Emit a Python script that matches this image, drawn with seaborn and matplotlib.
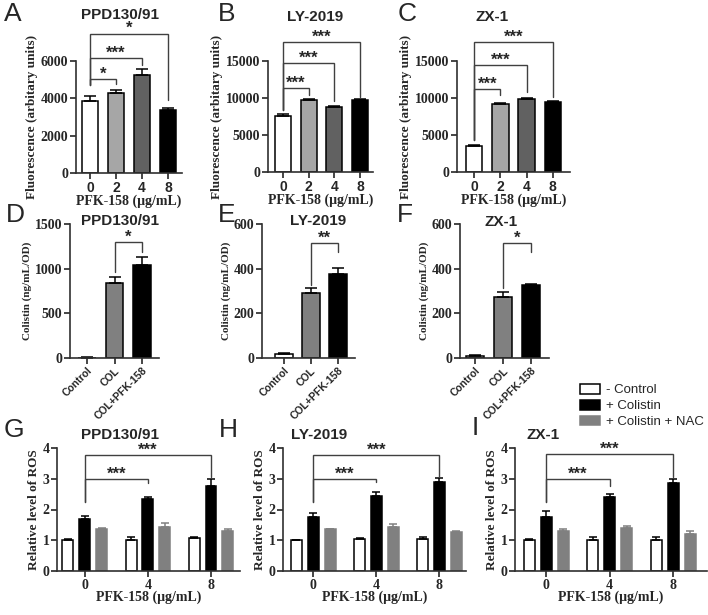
import numpy as np
import pandas as pd
import matplotlib.pyplot as plt
import seaborn as sns
from matplotlib.patches import Patch

sns.set_style('ticks')
plt.rcParams['font.family'] = ['Liberation Sans', 'DejaVu Sans']
plt.rcParams['axes.linewidth'] = 1.2
plt.rcParams['axes.edgecolor'] = '#303030'

SERIF = ['Liberation Serif', 'DejaVu Serif']
W, H = 708, 615

# ---- fluorescence data (A-C)
doses = ['0', '2', '4', '8']
fluo_ppd = [3850, 4300, 5250, 3350]
fluo_ppd_err = [300, 170, 320, 130]
fluo_ly = [7600, 9700, 8850, 9750]
fluo_ly_err = [200, 120, 100, 100]
fluo_zx = [3550, 9250, 9800, 9400]
fluo_zx_err = [150, 80, 200, 250]
fluo_colors = ['white', '#a6a6a6', '#616161', 'black']

# ---- colistin data (D-F)
col_groups = ['Control', 'COL', 'COL+PFK-158']
col_ppd = [5, 840, 1045]
col_ppd_err = [3, 70, 90]
col_ly = [18, 292, 376]
col_ly_err = [6, 20, 25]
col_zx = [10, 272, 325]
col_zx_err = [4, 25, 8]
col_colors = ['white', '#808080', 'black']

# ---- ROS data (G-I)
ros_doses = ['0', '4', '8']
ros_hue = ['- Control', '+ Colistin', '+ Colistin + NAC']
ros_colors = ['white', 'black', '#808080']
ros_edges = ['black', 'black', '#808080']
ros_ppd_ctrl = [1.00, 1.02, 1.07]
ros_ppd_ctrl_err = [0.05, 0.07, 0.02]
ros_ppd_col = [1.69, 2.33, 2.77]
ros_ppd_col_err = [0.10, 0.09, 0.22]
ros_ppd_nac = [1.35, 1.42, 1.31]
ros_ppd_nac_err = [0.05, 0.13, 0.04]
ros_ly_ctrl = [1.00, 1.03, 1.04]
ros_ly_ctrl_err = [0.02, 0.03, 0.05]
ros_ly_col = [1.77, 2.44, 2.91]
ros_ly_col_err = [0.10, 0.14, 0.11]
ros_ly_nac = [1.35, 1.44, 1.26]
ros_ly_nac_err = [0.02, 0.09, 0.03]
ros_zx_ctrl = [1.00, 1.02, 1.02]
ros_zx_ctrl_err = [0.03, 0.08, 0.07]
ros_zx_col = [1.74, 2.40, 2.86]
ros_zx_col_err = [0.20, 0.10, 0.13]
ros_zx_nac = [1.31, 1.41, 1.21]
ros_zx_nac_err = [0.07, 0.05, 0.08]

# significance brackets: (i, j, line height, left end, right end, label)
sig_a = [(0, 1, 5040, 4700, 4750, '*'), (0, 2, 6140, 4700, 5780, '***'),
         (0, 3, 7470, 4700, 3910, '*')]
sig_b = [(0, 1, 11400, 8400, 10400, '***'), (0, 2, 14700, 8400, 9600, '***'),
         (0, 3, 17600, 8400, 10200, '***')]
sig_c = [(0, 1, 11200, 4300, 10400, '***'), (0, 2, 14500, 4300, 10800, '***'),
         (0, 3, 17600, 4300, 10200, '***')]
sig_d = [(1, 2, 1295, 968, 1191, '*')]
sig_e = [(1, 2, 516, 327, 476, '**')]
sig_f = [(1, 2, 513, 313, 476, '*')]
sig_g = [(0, 1, 3.0, 2.26, 2.86, '***'), (0, 2, 3.78, 2.26, 3.07, '***')]
sig_h = [(0, 1, 3.0, 2.25, 2.91, '***'), (0, 2, 3.78, 2.25, 3.05, '***')]
sig_i = [(0, 1, 3.0, 2.26, 2.77, '***'), (0, 2, 3.8, 2.26, 3.07, '***')]

fig = plt.figure(figsize=(W / 100, H / 100), dpi=100)


def add_ax(x0, x1, ytop, ybot):
    return fig.add_axes([x0 / W, 1 - ybot / H, (x1 - x0) / W, (ybot - ytop) / H])


def brackets(ax, sigs):
    for i, j, y, yi, yj, lab in sigs:
        ax.plot([i, i, j, j], [yi, y, y, yj], color='#404040', lw=1.0,
                clip_on=False, solid_joinstyle='miter')
        ax.annotate(lab, ((i + j) / 2, y), xytext=(0, 3.5), textcoords='offset points',
                    ha='center', va='center', fontsize=12, fontweight='bold',
                    annotation_clip=False)


def axis_style(ax, yticks, ylabel, ysize):
    sns.despine(ax=ax)
    ax.set_ylim(yticks[0], yticks[-1])
    ax.set_yticks(yticks, labels=[str(t) for t in yticks], fontfamily=SERIF,
                  fontweight='bold', fontsize=10)
    ax.tick_params(axis='both', direction='out', length=4, width=1.2, pad=1.5)
    ax.set_ylabel(ylabel, fontfamily=SERIF, fontweight='bold', fontsize=ysize, labelpad=2)


def fluo_panel(ax, vals, errs, xlim, yticks, sigs):
    sns.barplot(x=doses, y=vals, hue=doses, palette=fluo_colors, legend=False,
                width=0.62, edgecolor='black', linewidth=1.1, saturation=1, ax=ax)
    ax.errorbar(np.arange(len(vals)), vals, yerr=[np.zeros(len(vals)), errs], fmt='none',
                ecolor='black', elinewidth=1.1, capsize=4, capthick=1.1)
    axis_style(ax, yticks, 'Fluorescence (arbitary units)', 9.5)
    ax.set_xlim(*xlim)
    ax.set_xticks(range(len(doses)), labels=doses, fontweight='bold', fontsize=10)
    ax.set_xlabel('PFK-158 (\u03bcg/mL)', fontfamily=SERIF, fontweight='bold',
                  fontsize=10, labelpad=0)
    brackets(ax, sigs)


def col_panel(ax, vals, errs, xlim, yticks, sigs):
    sns.barplot(x=col_groups, y=vals, hue=col_groups, palette=col_colors, legend=False,
                width=0.65, edgecolor='black', linewidth=1.1, saturation=1, ax=ax)
    ax.errorbar(np.arange(len(vals)), vals, yerr=[np.zeros(len(vals)), errs], fmt='none',
                ecolor='black', elinewidth=1.1, capsize=4, capthick=1.1)
    axis_style(ax, yticks, 'Colistin (ng/mL/OD)', 8)
    ax.set_xlim(*xlim)
    ax.set_xticks(range(len(col_groups)), labels=col_groups, fontweight='bold',
                  fontsize=7.5, rotation=45, ha='right', rotation_mode='anchor')
    ax.set_xlabel('')
    brackets(ax, sigs)


def ros_panel(ax, ctrl, col, nac, errs, xlim, sigs):
    df = pd.DataFrame({'dose': ros_doses * 3,
                       'group': np.repeat(ros_hue, len(ros_doses)),
                       'value': ctrl + col + nac})
    sns.barplot(data=df, x='dose', y='value', hue='group', hue_order=ros_hue,
                palette=ros_colors, gap=0.35, saturation=1, errorbar=None,
                linewidth=1.1, legend=False, ax=ax)
    for cont, edge, err in zip(ax.containers, ros_edges, errs):
        xs = [p.get_x() + p.get_width() / 2 for p in cont]
        hs = [p.get_height() for p in cont]
        for p in cont:
            p.set_edgecolor(edge)
        ax.errorbar(xs, hs, yerr=[np.zeros(len(hs)), err], fmt='none', ecolor=edge,
                    elinewidth=1.1, capsize=2.8, capthick=1.1)
    axis_style(ax, [0, 1, 2, 3, 4], 'Relative level of ROS', 9.5)
    ax.set_xlim(*xlim)
    ax.set_xticks(range(len(ros_doses)), labels=ros_doses, fontfamily=SERIF,
                  fontweight='bold', fontsize=10)
    ax.set_xlabel('PFK-158 (\u03bcg/mL)', fontfamily=SERIF, fontweight='bold',
                  fontsize=10, labelpad=-1)
    brackets(ax, sigs)


# top row
fluo_panel(add_ax(76, 182, 61, 173), fluo_ppd, fluo_ppd_err, (-0.54, 3.54),
           [0, 2000, 4000, 6000], sig_a)
fluo_panel(add_ax(268, 373, 61, 172), fluo_ly, fluo_ly_err, (-0.58, 3.5),
           [0, 5000, 10000, 15000], sig_b)
fluo_panel(add_ax(457, 570, 61, 172), fluo_zx, fluo_zx_err, (-0.66, 3.66),
           [0, 5000, 10000, 15000], sig_c)

# middle row
col_panel(add_ax(70, 159, 224, 358), col_ppd, col_ppd_err, (-0.62, 2.62),
          [0, 500, 1000, 1500], sig_d)
col_panel(add_ax(262, 355, 224, 358), col_ly, col_ly_err, (-0.8, 2.63),
          [0, 200, 400, 600], sig_e)
col_panel(add_ax(460, 549, 224, 358), col_zx, col_zx_err, (-0.55, 2.64),
          [0, 200, 400, 600], sig_f)

# bottom row
ros_panel(add_ax(57, 240, 448, 571), ros_ppd_ctrl, ros_ppd_col, ros_ppd_nac,
          [ros_ppd_ctrl_err, ros_ppd_col_err, ros_ppd_nac_err], (-0.44, 2.46), sig_g)
ros_panel(add_ax(283, 466, 448, 571), ros_ly_ctrl, ros_ly_col, ros_ly_nac,
          [ros_ly_ctrl_err, ros_ly_col_err, ros_ly_nac_err], (-0.48, 2.42), sig_h)
ros_panel(add_ax(515, 707, 448, 571), ros_zx_ctrl, ros_zx_col, ros_zx_nac,
          [ros_zx_ctrl_err, ros_zx_col_err, ros_zx_nac_err], (-0.49, 2.53), sig_i)

# titles and panel letters
titles = [('PPD130/91', 120, 15), ('LY-2019', 315, 17), ('ZX-1', 492, 17),
          ('PPD130/91', 120, 221), ('LY-2019', 318, 221), ('ZX-1', 501, 222),
          ('PPD130/91', 120, 435), ('LY-2019', 319, 435), ('ZX-1', 543, 435)]
for t, x, y in titles:
    fig.text(x / W, 1 - y / H, t, ha='center', va='center', fontsize=11, fontweight='bold')

letters = [('A', 13, 14), ('B', 227, 14), ('C', 407, 14),
           ('D', 15, 215), ('E', 227, 215), ('F', 405, 215),
           ('G', 14, 430), ('H', 228, 430), ('I', 475, 428)]
for t, x, y in letters:
    fig.text(x / W, 1 - y / H, t, ha='center', va='center', fontsize=19)

handles = [Patch(facecolor=c, edgecolor=e, linewidth=1.1) for c, e in zip(ros_colors, ros_edges)]
fig.legend(handles=handles, labels=ros_hue, loc='upper left',
           bbox_to_anchor=(580 / W, 1 - 384 / H), frameon=False, fontsize=9.5,
           handlelength=1.5, handleheight=0.76, handletextpad=0.5, labelspacing=0.25,
           borderpad=0, borderaxespad=0)

fig.savefig('out.png', dpi=100)
